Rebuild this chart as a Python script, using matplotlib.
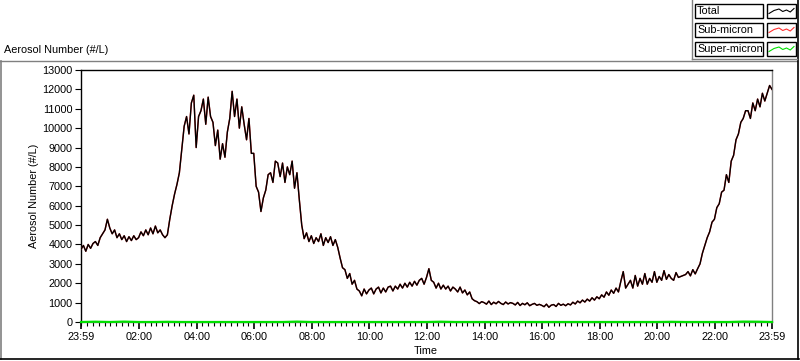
import numpy as np
import pandas as pd
import matplotlib
matplotlib.use("Agg")
import matplotlib.pyplot as plt
from matplotlib.lines import Line2D
from matplotlib.patches import Rectangle

plt.rcParams['font.family'] = ['Liberation Sans', 'DejaVu Sans']
plt.rcParams['font.size'] = 7.8

# total aerosol number (#/L), one value every 5 min from 23:59, 12 per row = 1 hour
total = [
    3750, 3950, 3650, 4000, 3800, 4050, 4150, 3950, 4350, 4550, 4750, 5300,
    4850, 4550, 4750, 4350, 4550, 4250, 4450, 4150, 4400, 4200, 4450, 4250,
    4350, 4650, 4450, 4750, 4500, 4850, 4550, 4950, 4600, 4750, 4500, 4350,
    4500, 5300, 6000, 6600, 7100, 7700, 8900, 10100, 10600, 9700, 11300, 11700,
    9000, 10600, 10900, 11500, 10200, 11600, 10600, 10300, 9100, 9900, 8400, 9200,
    8500, 9800, 10500, 11900, 10600, 11500, 10000, 11100, 10200, 9400, 10500, 8700,
    8700, 7000, 6700, 5700, 6400, 6800, 7600, 7700, 7200, 8300, 8200, 7500,
    8200, 7200, 8000, 7600, 8300, 6900, 7700, 6300, 5000, 4300, 4600, 4150,
    4450, 4050, 4350, 4150, 4550, 3950, 4350, 4100, 4400, 3950, 4250, 3850,
    3300, 2800, 2700, 2250, 2500, 1950, 2150, 1700, 1600, 1350, 1700, 1450,
    1650, 1750, 1450, 1700, 1800, 1500, 1750, 1550, 1800, 1850, 1600, 1850,
    1700, 1950, 1750, 2000, 1800, 2050, 1850, 2100, 1900, 2150, 2250, 1950,
    2300, 2750, 2150, 2050, 1750, 2000, 1700, 1900, 1700, 1850, 1600, 1800,
    1700, 1550, 1800, 1500, 1650, 1400, 1550, 1200, 1100, 1050, 950, 1050,
    1000, 920, 1080, 900, 1020, 940, 1060, 960, 900, 1030, 930, 1000,
    960, 880, 1010, 850, 960, 890, 990, 840, 910, 960, 860, 910,
    860, 790, 920, 760, 870, 900, 800, 960, 860, 920, 840, 940,
    880, 1020, 930, 1080, 990, 1130, 1030, 1180, 1080, 1250, 1130, 1300,
    1200, 1400, 1280, 1550, 1380, 1650, 1480, 1750, 1550, 2100, 2600, 1750,
    1950, 2150, 1750, 2400, 1850, 2250, 1950, 2500, 1950, 2250, 2050, 2600,
    2050, 2350, 2150, 2650, 2200, 2450, 2250, 2150, 2550, 2300, 2350, 2400,
    2450, 2600, 2380, 2700, 2480, 2750, 3000, 3550, 3950, 4350, 4650, 5150,
    5300, 5900, 6100, 6700, 6800, 7600, 7200, 8300, 8600, 9400, 9700, 10300,
    10500, 10900, 10900, 10500, 11300, 10900, 11500, 11100, 11800, 11400, 11800, 12200,
    12000,
]
sub_micron = list(total)
# super-micron, every 30 min
super_micron = [0, 15, 0, 20, 0, 0, 10, 0, 0, 0, 0, 0, 0, 0, 0, 20, 0, 0,
                0, 0, 0, 0, 0, 0, 0, 15, 0, 0, 0, 0, 0, 0, 0, 0, 0, 0,
                0, 0, 0, 0, 0, 10, 0, 0, 0, 0, 20, 15, 0]

start = pd.Timestamp('2000-01-01 23:59')
end = pd.Timestamp('2000-01-02 23:59')
t_total = pd.date_range(start, periods=len(total), freq='5min')
t_super = pd.date_range(start, periods=len(super_micron), freq='30min')

W, H = 800, 361
fig = plt.figure(figsize=(W / 100, H / 100), dpi=100)

def fx(x):
    return x / W

def fy(y):
    return 1 - y / H

ax = fig.add_axes([fx(81), fy(322), (772 - 81) / W, (322 - 70) / H])
ax.plot(t_super, super_micron, color='#00e000', lw=1.6, clip_on=False, zorder=3)
ax.plot(t_total, sub_micron, color='#ff3030', lw=1.0, zorder=4)
ax.plot(t_total, total, color='black', lw=1.0, zorder=5)

ax.set_xlim(start, end)
ax.set_ylim(0, 13000)
ax.set_yticks(np.arange(0, 13001, 1000))

major = [start] + list(pd.date_range('2000-01-02 02:00', '2000-01-02 22:00', freq='2h')) + [end]
ax.set_xticks(major)
ax.set_xticklabels([d.strftime('%H:%M') for d in major])
ax.set_xticks(pd.date_range('2000-01-02 00:00', '2000-01-02 23:59', freq='12min'), minor=True)
ax.tick_params(axis='x', which='major', length=5, width=1.2, pad=2)
ax.tick_params(axis='x', which='minor', length=3, width=0.8)
ax.tick_params(axis='y', length=4, width=0.8, pad=2)

ax.spines['top'].set_color('black')
ax.spines['left'].set_color('black')
ax.spines['right'].set_color('#808080')
ax.spines['bottom'].set_color('#808080')
for s in ax.spines.values():
    s.set_linewidth(1)

fig.text(fx(426), fy(351), 'Time', ha='center', va='center')
fig.text(fx(34), fy(196), 'Aerosol Number (#/L)', rotation=90, ha='center', va='center')
fig.text(fx(4), fy(50), 'Aerosol Number (#/L)', ha='left', va='center')

# panel frame
fig.add_artist(Line2D([fx(0), fx(797)], [fy(61), fy(61)], color='#808080', lw=1))
fig.add_artist(Line2D([fx(1), fx(1)], [fy(61), fy(359)], color='#808080', lw=1.2))
fig.add_artist(Line2D([fx(798), fx(798)], [fy(0), fy(359)], color='black', lw=1.2))
fig.add_artist(Line2D([fx(0), fx(799)], [fy(359), fy(359)], color='black', lw=1.2))
fig.add_artist(Line2D([fx(692), fx(692)], [fy(0), fy(59)], color='#808080', lw=1))
fig.add_artist(Line2D([fx(692), fx(797)], [fy(59), fy(59)], color='#808080', lw=1))

# legend
names = ['Total', 'Sub-micron', 'Super-micron']
colors = ['black', '#ff3030', '#00e000']
tops = [4, 23, 42]
zig_x = [0, 0.2, 0.4, 0.55, 0.7, 0.85, 1.0]
zig_y = [0.75, 0.45, 0.3, 0.55, 0.4, 0.6, 0.25]
for name, c, top in zip(names, colors, tops):
    fig.add_artist(Rectangle((fx(695), fy(top + 14)), 68 / W, 14 / H, transform=fig.transFigure,
                             facecolor='white', edgecolor='black', lw=1))
    fig.add_artist(Rectangle((fx(767), fy(top + 14)), 29 / W, 14 / H, transform=fig.transFigure,
                             facecolor='white', edgecolor='black', lw=1))
    fig.text(fx(697), fy(top + 7), name, ha='left', va='center')
    fig.add_artist(Line2D([fx(769 + 25 * z) for z in zig_x],
                          [fy(top + 2 + 10 * z) for z in zig_y], color=c, lw=0.8))

fig.savefig('out.png', dpi=100)
